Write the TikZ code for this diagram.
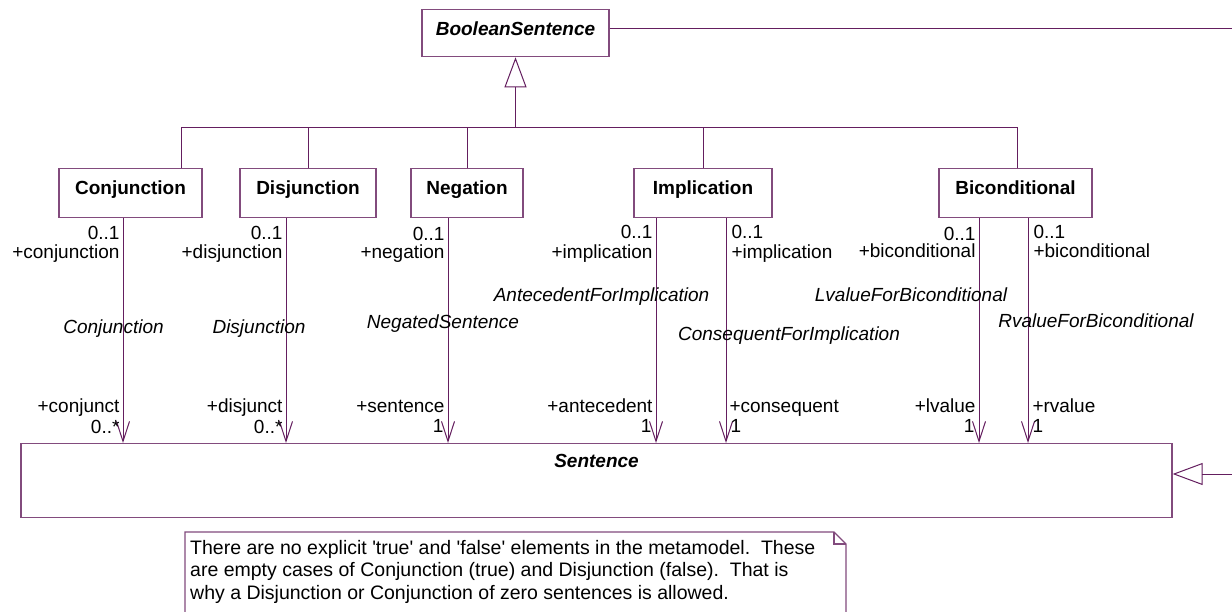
\documentclass[tikz,border=0pt]{standalone}
\usepackage{fontspec}
\newfontfamily\uml{Liberation Sans}
\usetikzlibrary{arrows.meta}
\definecolor{umlline}{RGB}{100,30,95}
\definecolor{umlbox}{RGB}{130,75,125}
\begin{document}
\begin{tikzpicture}[x=1pt,y=-1pt,
  every node/.style={inner sep=0pt, font=\uml\fontsize{19}{21}\selectfont},
  classbox/.style={draw=umlbox, line width=1.3pt, fill=white, anchor=north,
    text height=26pt, text depth=23pt, font=\uml\fontsize{19}{21}\selectfont\bfseries},
  abstractbox/.style={classbox, font=\uml\fontsize{19}{21}\selectfont\bfseries\itshape},
  gen/.style={draw=umlline, line width=1pt},
  gentip/.style={-{Triangle[open,length=30pt,width=22pt,line width=1pt]}},
  assoc/.style={draw=umlline, line width=1pt, -{Straight Barb[length=20pt,width=13pt,line width=1pt]}},
  aname/.style={anchor=base, font=\uml\fontsize{19}{21}\selectfont\itshape},
  lsrc/.style={at start, anchor=base east, xshift=-3pt},
  rsrc/.style={at start, anchor=base west, xshift=5pt},
  ltgt/.style={at end, anchor=base east, xshift=-3pt},
  rtgt/.style={at end, anchor=base west, xshift=4pt},
  notebox/.style={draw=umlbox, line width=1.3pt},
]
\useasboundingbox (0,0) rectangle (1232,611);
\fill[white] (0,0) rectangle (1232,611);

% classes
\node[abstractbox, minimum width=187pt, text depth=21pt] (bs) at (515.5,9) {BooleanSentence};
\node[classbox, minimum width=143pt] (conj) at (130.5,168) {Conjunction};
\node[classbox, minimum width=136pt] (disj) at (308,168) {Disjunction};
\node[classbox, minimum width=112pt] (neg) at (467,168) {Negation};
\node[classbox, minimum width=138pt] (impl) at (703,168) {Implication};
\node[classbox, minimum width=153pt] (bic) at (1015.5,168) {Biconditional};
\node[abstractbox, minimum width=1151pt, text height=24pt, text depth=50pt] (sent) at (596.5,443) {Sentence};

% helper coordinates
\coordinate (bar) at (515.5,127);
\coordinate (dc) at (181,0);
\coordinate (dd) at (308,0);
\coordinate (dn) at (467,0);
\coordinate (di) at (703,0);
\coordinate (db) at (1017,0);
\coordinate (xc) at (123,0);
\coordinate (xd) at (286,0);
\coordinate (xn) at (448,0);
\coordinate (xia) at (656,0);
\coordinate (xib) at (726,0);
\coordinate (xba) at (979,0);
\coordinate (xbb) at (1028,0);
\coordinate (rc1) at (1232.5,28);
\coordinate (rc2) at (1232.5,474);

% generalizations
\draw[gen] (conj.north -| dc) |- (bar);
\draw[gen] (disj.north -| dd) |- (bar);
\draw[gen] (neg.north -| dn) |- (bar);
\draw[gen] (impl.north -| di) |- (bar);
\draw[gen] (bic.north -| db) |- (bar);
\draw[gen, gentip] (bar) -- (bs.south);
\draw[gen, gentip] (bs.east |- rc1) -- (rc1) -- (rc2) -- (sent.east |- rc2);

% associations
\draw[assoc] (conj.south -| xc) -- (sent.north -| xc)
  node[lsrc, yshift=-21pt] {0..1}
  node[lsrc, yshift=-40pt] {+conjunction}
  node[ltgt, yshift=31pt] {+conjunct}
  node[ltgt, yshift=10pt] {0..*};
\draw[assoc] (disj.south -| xd) -- (sent.north -| xd)
  node[lsrc, yshift=-21pt] {0..1}
  node[lsrc, yshift=-40pt] {+disjunction}
  node[ltgt, yshift=31pt] {+disjunct}
  node[ltgt, yshift=10pt] {0..*};
\draw[assoc] (neg.south -| xn) -- (sent.north -| xn)
  node[lsrc, yshift=-22pt] {0..1}
  node[lsrc, yshift=-40pt] {+negation}
  node[ltgt, yshift=31pt] {+sentence}
  node[ltgt, xshift=-1pt, yshift=11pt] {1};
\draw[assoc] (impl.south -| xia) -- (sent.north -| xia)
  node[lsrc, yshift=-20pt] {0..1}
  node[lsrc, yshift=-40pt] {+implication}
  node[ltgt, yshift=31pt] {+antecedent}
  node[ltgt, xshift=-1pt, yshift=11pt] {1};
\draw[assoc] (impl.south -| xib) -- (sent.north -| xib)
  node[rsrc, yshift=-20pt] {0..1}
  node[rsrc, yshift=-40pt] {+implication}
  node[rtgt, xshift=-1pt, yshift=31pt] {+consequent}
  node[rtgt, yshift=11pt] {1};
\draw[assoc] (bic.south -| xba) -- (sent.north -| xba)
  node[lsrc, yshift=-22pt] {0..1}
  node[lsrc, yshift=-39pt] {+biconditional}
  node[ltgt, yshift=31pt] {+lvalue}
  node[ltgt, xshift=-1pt, yshift=11pt] {1};
\draw[assoc] (bic.south -| xbb) -- (sent.north -| xbb)
  node[rsrc, yshift=-20pt] {0..1}
  node[rsrc, yshift=-39pt] {+biconditional}
  node[rtgt, yshift=31pt] {+rvalue}
  node[rtgt, yshift=11pt] {1};

% association names
\node[aname] (nconj) at (113.5,333) {Conjunction};
\node[aname] (ndisj) at (259,333) {Disjunction};
\node[aname] (nneg) at (443,328) {NegatedSentence};
\node[aname] (nant) at (601.5,301) {AntecedentForImplication};
\node[aname] (ncons) at (789,340) {ConsequentForImplication};
\node[aname] (nlv) at (911,301) {LvalueForBiconditional};
\node[aname] (nrv) at (1096,327) {RvalueForBiconditional};

% note
\draw[notebox] (185,625) -- (185,532) -- (834,532) -- (846,544) -- (846,625);
\draw[notebox] (834,532) -- (834,544) -- (846,544);
\node[anchor=north west, align=left, font=\uml\fontsize{19.5}{22.5}\selectfont] (note) at (190,540)
  {There are no explicit 'true' and 'false' elements in the metamodel.\ \ These\\
   are empty cases of Conjunction (true) and Disjunction (false).\ \ That is\\
   why a Disjunction or Conjunction of zero sentences is allowed.};
\end{tikzpicture}
\end{document}
